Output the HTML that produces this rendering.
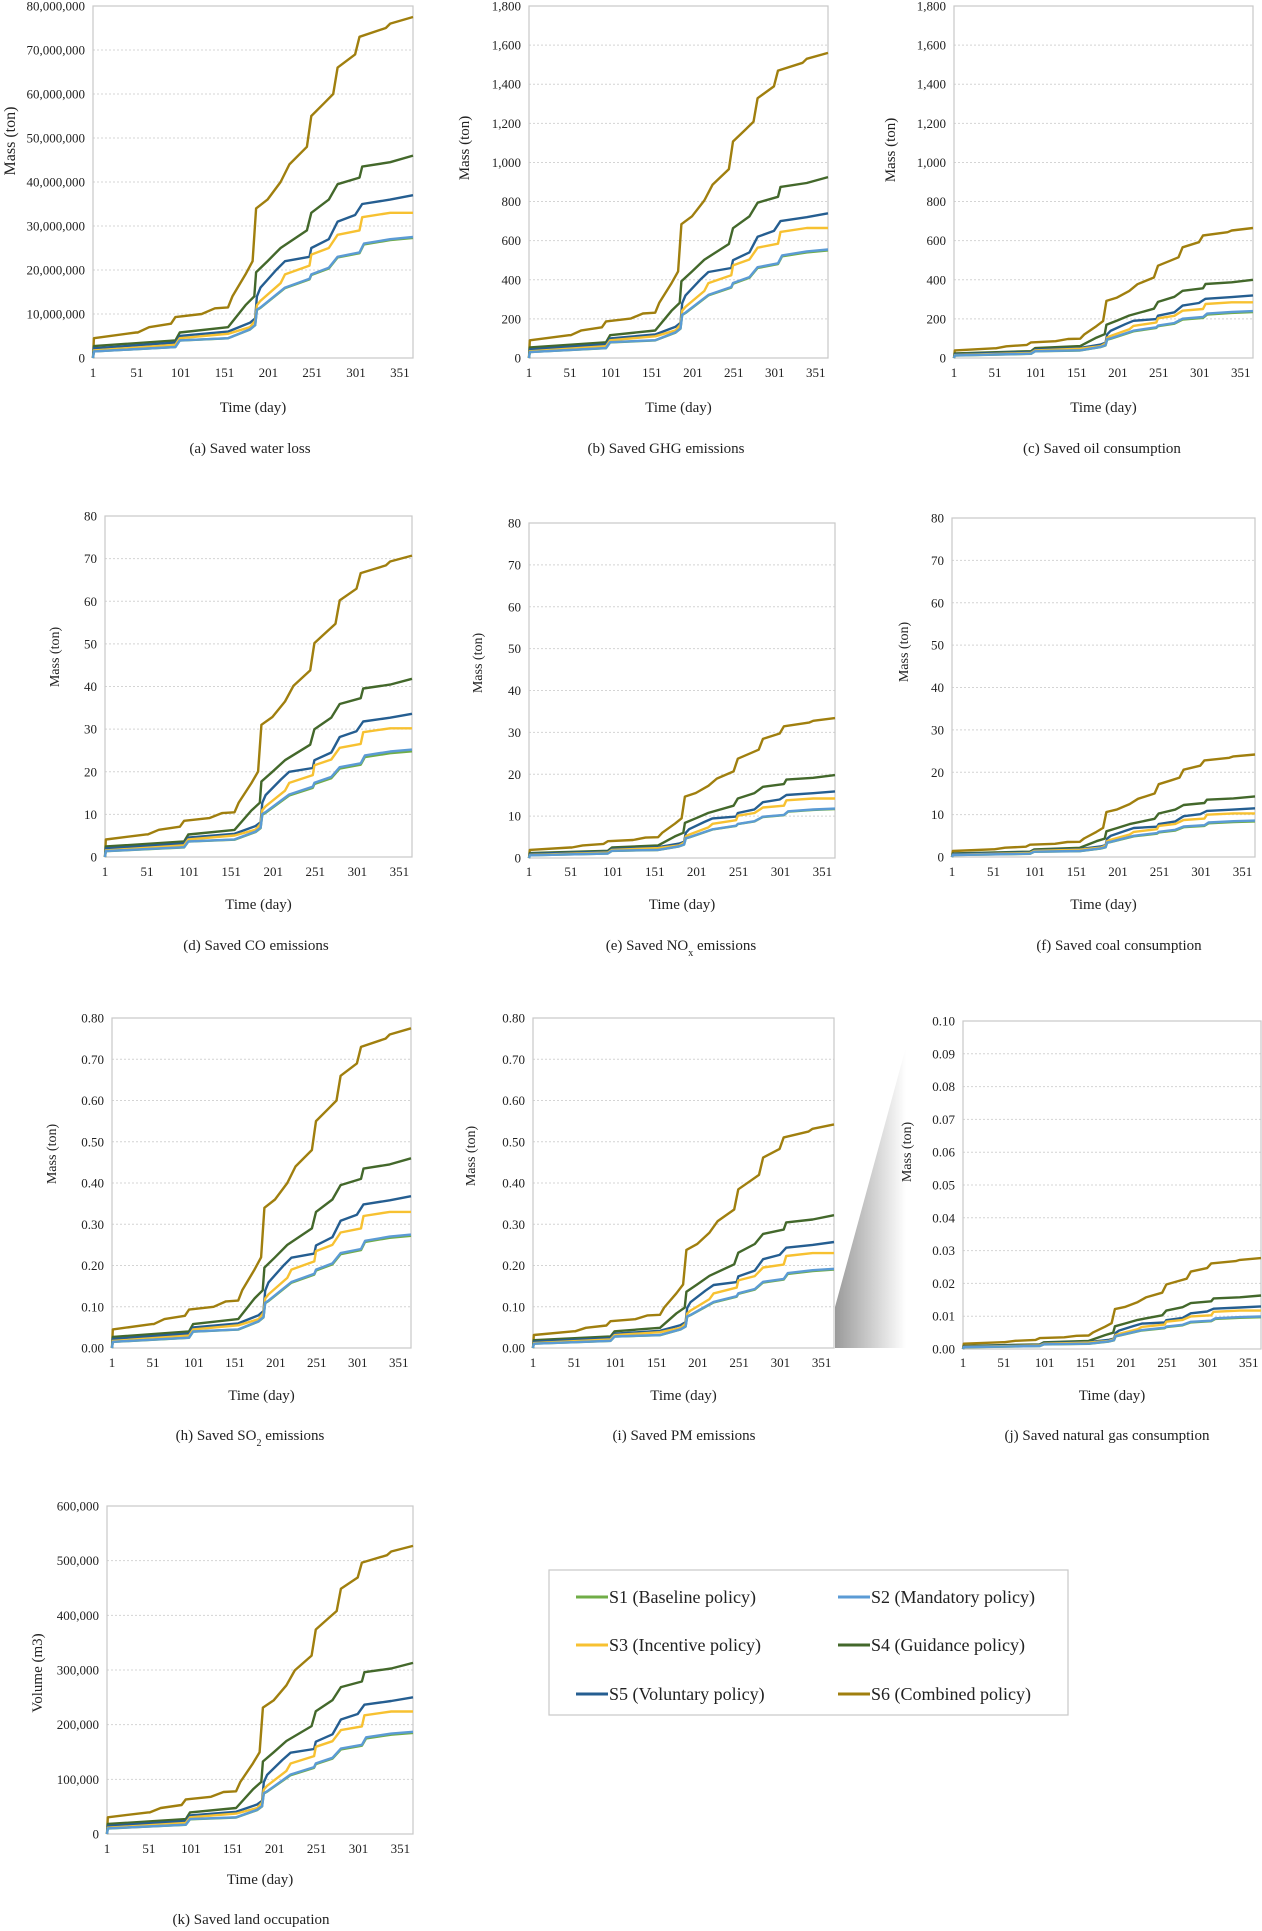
<!DOCTYPE html>
<html><head><meta charset="utf-8"><style>
html,body{margin:0;padding:0;background:#fff;}
svg{display:block;font-family:"Liberation Serif",serif;}
</style></head><body>
<svg id="s" width="1262" height="1931" viewBox="0 0 1262 1931" xmlns="http://www.w3.org/2000/svg"></svg>
<script>
const S=document.getElementById('s');
let out='';
const col=['#70ad47','#5b9bd5','#f7c131','#43682b','#255e91','#a07f0e'];
const K={
6:[[1,0],[2,4.5],[50,5.8],[52,5.8],[65,7],[90,7.8],[95,9.3],[125,10],[140,11.3],[155,11.5],[160,14],[175,19],[183,22],[187,34],[200,36],[215,40],[225,44],[245,48],[250,55],[265,58],[275,60],[280,66],[300,69],[305,73],[335,75],[340,76],[366,77.5]],
4:[[1,0],[2,2.7],[95,4],[100,5.8],[155,7],[175,12],[185,14],[187,19.5],[200,22],[215,25],[245,29],[250,33],[270,36],[280,39.5],[305,41],[308,43.5],[340,44.5],[366,46]],
5:[[1,0],[2,2.2],[95,3.5],[100,5],[155,6],[180,8],[186,9],[188,14],[192,16],[210,20],[220,22],[248,23],[250,25],[270,27],[280,31],[300,32.5],[308,35],[340,36],[366,37]],
3:[[1,0],[2,1.7],[95,3],[100,4.5],[155,5.5],[180,7],[186,8.5],[188,12],[192,13],[215,17],[220,19],[248,21],[250,23.5],[270,25],[280,28],[305,29],[308,32],[340,33],[366,33]],
1:[[1,0],[2,1.5],[95,2.5],[100,4],[155,4.5],[180,6.5],[186,7.5],[188,11],[192,11.5],[220,16],[248,18],[250,19],[270,20.5],[280,23],[305,24],[310,26],[340,27],[366,27.5]]
};
K[2]=K[1];
const charts=[
{px:[93,413],py:[6,358],max:80e6,step:10e6,fmt:v=>v.toLocaleString('en-US'),fin:[27.3,27.5,33,46,37,77.5].map(v=>v*1e6),yl:'Mass (ton)',ylx:10,ylc:141,capx:250,cap:'(a) Saved water loss',tk:377,tt:412,cy:453,fs:16},
{px:[529,828],py:[6,358],max:1800,step:200,fmt:v=>v.toLocaleString('en-US'),fin:[550,555,665,925,740,1560],yl:'Mass (ton)',ylx:464,ylc:148,capx:666,cap:'(b) Saved GHG emissions',tk:377,tt:412,cy:453,fs:15},
{px:[954,1253],py:[6,358],max:1800,step:200,fmt:v=>v.toLocaleString('en-US'),fin:[235,240,285,400,320,665],yl:'Mass (ton)',ylx:890,ylc:150,capx:1102,cap:'(c) Saved oil consumption',tk:377,tt:412,cy:453,fs:15},
{px:[105,412],py:[516,857],max:80,step:10,fmt:v=>String(v),fin:[24.8,25.2,30.2,41.8,33.6,70.7],yl:'Mass (ton)',ylx:54,ylc:657,capx:256,cap:'(d) Saved CO emissions',tk:876,tt:909,cy:950,fs:14},
{px:[529,835],py:[523,858],max:80,step:10,fmt:v=>String(v),fin:[11.7,11.8,14.2,19.8,15.9,33.4],yl:'Mass (ton)',ylx:477,ylc:663,capx:681,cap:'(e) Saved NO<tspan baseline-shift="sub" font-size="10">x</tspan> emissions',tk:876,tt:909,cy:950,fs:14},
{px:[952,1255],py:[518,857],max:80,step:10,fmt:v=>String(v),fin:[8.4,8.6,10.3,14.3,11.5,24.2],yl:'Mass (ton)',ylx:903,ylc:652,capx:1119,cap:'(f) Saved coal consumption',tk:876,tt:909,cy:950,fs:14},
{px:[112,411],py:[1018,1348],max:0.8,step:0.1,fmt:v=>v.toFixed(2),fin:[0.272,0.275,0.33,0.46,0.368,0.775],yl:'Mass (ton)',ylx:51,ylc:1154,capx:250,cap:'(h) Saved SO<tspan baseline-shift="sub" font-size="10">2</tspan> emissions',tk:1367,tt:1400,cy:1440,fs:14},
{px:[533,834],py:[1018,1348],max:0.8,step:0.1,fmt:v=>v.toFixed(2),fin:[0.19,0.192,0.23,0.322,0.257,0.542],yl:'Mass (ton)',ylx:470,ylc:1156,capx:684,cap:'(i) Saved PM emissions',tk:1367,tt:1400,cy:1440,fs:14},
{px:[963,1261],py:[1021,1349],max:0.1,step:0.01,fmt:v=>v.toFixed(2),fin:[0.0097,0.0099,0.0117,0.0163,0.013,0.0277],yl:'Mass (ton)',ylx:906,ylc:1152,capx:1107,cap:'(j) Saved natural gas consumption',tk:1367,tt:1400,cy:1440,fs:14},
{px:[107,413],py:[1506,1834],max:600000,step:100000,fmt:v=>v.toLocaleString('en-US'),fin:[185000,187000,224000,313000,250000,527000],yl:'Volume (m3)',ylx:37,ylc:1673,capx:251,cap:'(k) Saved land occupation',tk:1853,tt:1884,cy:1924,fs:15}
];
out+='<defs><linearGradient id="g" x1="0" x2="1"><stop offset="0" stop-color="#9a9a9a"/><stop offset="1" stop-color="#ffffff"/></linearGradient></defs>';
out+='<polygon points="835,1307 906,1047 906,1348 835,1348" fill="url(#g)"/>';
for(const c of charts){
 const [x0,x1]=c.px,[y0,y1]=c.py;
 const X=d=>x0+(d-1)/365*(x1-x0), Y=v=>y1-v/c.max*(y1-y0);
 const n=Math.round(c.max/c.step);
 for(let i=0;i<=n;i++){
  const v=i*c.step,y=Y(v);
  if(i>0&&i<n) out+=`<line x1="${x0}" x2="${x1}" y1="${y}" y2="${y}" stroke="#d4d4d4" stroke-width="1" stroke-dasharray="2,2"/>`;
  out+=`<text x="${x0-8}" y="${y+4.5}" font-size="13" text-anchor="end" fill="#222">${c.fmt(+v.toFixed(6))}</text>`;
 }
 out+=`<rect x="${x0}" y="${y0}" width="${x1-x0}" height="${y1-y0}" fill="none" stroke="#c8c8c8" stroke-width="1.2"/>`;
 for(let d=1;d<=351;d+=50) out+=`<text x="${X(d)}" y="${c.tk}" font-size="13" text-anchor="middle" fill="#222">${d}</text>`;
 out+=`<text x="${(x0+x1)/2}" y="${c.tt}" font-size="15" text-anchor="middle" fill="#222">Time (day)</text>`;
 out+=`<text x="${c.capx}" y="${c.cy}" font-size="15" text-anchor="middle" fill="#222">${c.cap}</text>`;
 const ym=c.ylc;
 out+=`<text x="${c.ylx+5}" y="${ym}" font-size="${c.fs}" text-anchor="middle" fill="#222" transform="rotate(-90 ${c.ylx+5} ${ym})">${c.yl}</text>`;
 for(const s of [6,4,5,3,1,2]){
  const k=K[s],fin=k[k.length-1][1],F=c.fin[s-1];
  let d='';
  k.forEach((p,i)=>{d+=(i?'L':'M')+X(p[0]).toFixed(1)+','+Y(p[1]/fin*F).toFixed(1);});
  out+=`<path d="${d}" fill="none" stroke="${col[s-1]}" stroke-width="2.4" stroke-linejoin="round"/>`;
 }
}
out+='<rect x="549" y="1570" width="519" height="145" fill="#fff" stroke="#c8c8c8" stroke-width="1.2"/>';
const L=[['S1 (Baseline policy)',0,576,1597],['S2 (Mandatory policy)',1,838,1597],['S3 (Incentive policy)',2,576,1645],['S4 (Guidance policy)',3,838,1645],['S5 (Voluntary policy)',4,576,1694],['S6 (Combined policy)',5,838,1694]];
for(const [t,i,x,y] of L){
 out+=`<line x1="${x}" x2="${x+32}" y1="${y}" y2="${y}" stroke="${col[i]}" stroke-width="3"/>`;
 out+=`<text x="${x+33}" y="${y+6}" font-size="18" fill="#222">${t}</text>`;
}
S.innerHTML=out;
</script>
</body></html>
